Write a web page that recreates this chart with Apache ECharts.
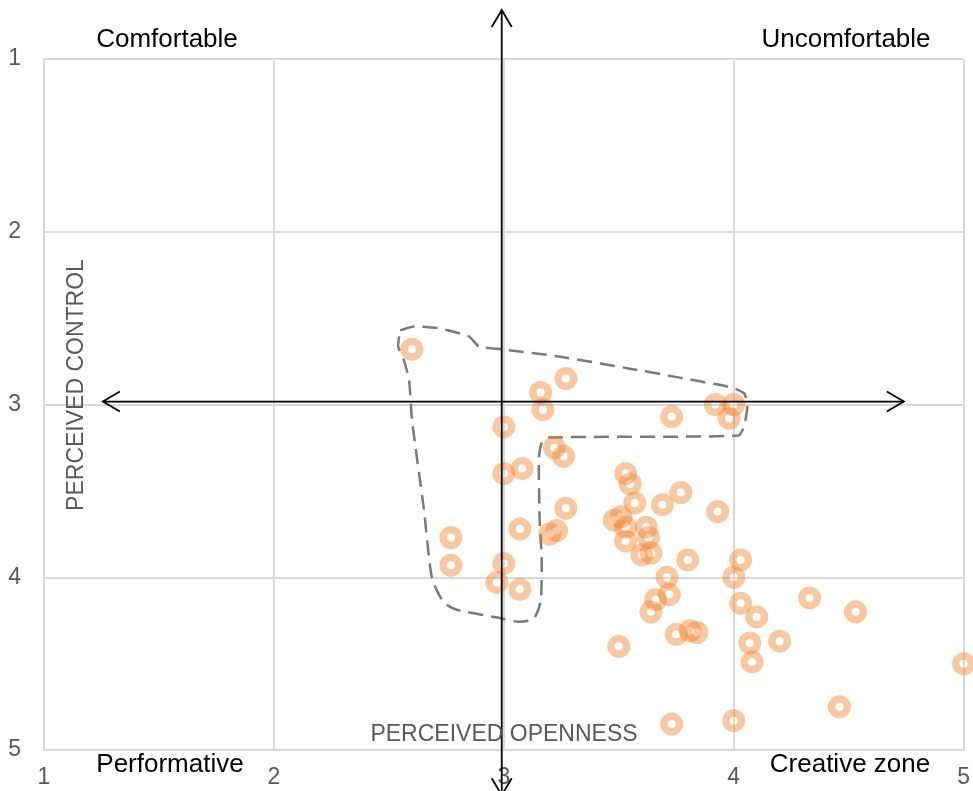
<!DOCTYPE html>
<html>
<head>
<meta charset="utf-8">
<script src="https://cdn.jsdelivr.net/npm/echarts@6/dist/echarts.min.js"></script>
<style>
html,body{margin:0;padding:0;background:#fff;}
#main{width:973px;height:791px;}
</style>
</head>
<body>
<div id="main"></div>
<script>
// ---- data ----
var tickValues = [1, 2, 3, 4, 5];
var openness = [2.60,3.27,3.16,3.17,3.00,3.73,3.92,4.00,3.98,3.22,3.26,3.00,3.08,3.53,3.55,3.57,3.69,3.77,3.93,3.27,
                2.77,2.77,3.07,3.23,3.20,3.00,2.97,3.07,3.48,3.51,3.53,3.53,3.62,3.63,3.60,3.64,3.80,4.03,4.00,3.71,
                3.72,3.66,3.64,4.03,4.10,3.75,3.81,3.84,3.50,4.07,4.20,4.08,4.33,4.53,5.00,4.46,4.00,3.73];
var control  = [2.68,2.85,2.93,3.03,3.13,3.07,3.00,3.00,3.08,3.25,3.30,3.40,3.37,3.40,3.46,3.57,3.58,3.51,3.62,3.60,
                3.77,3.93,3.72,3.73,3.75,3.92,4.03,4.07,3.67,3.65,3.71,3.79,3.71,3.77,3.87,3.86,3.90,3.90,4.00,4.00,
                4.10,4.13,4.20,4.15,4.23,4.33,4.31,4.32,4.40,4.38,4.37,4.49,4.12,4.20,4.50,4.75,4.83,4.85];
// dashed cluster outline (openness, control)
var outlineX = [2.549,2.610,2.718,2.848,2.892,2.991,3.239,3.542,3.759,3.989,4.046,4.059,4.046,4.020,3.195,3.165,3.152,3.156,3.165,3.161,3.130,3.065,2.978,2.796,2.740,2.688,2.653,2.601,2.588,2.566,2.540,2.549];
var outlineY = [2.571,2.548,2.559,2.606,2.664,2.681,2.722,2.791,2.843,2.901,2.936,3.006,3.122,3.180,3.191,3.220,3.325,3.672,3.904,4.136,4.241,4.258,4.235,4.188,4.148,4.009,3.614,3.093,2.861,2.745,2.658,2.571];
// quadrant arrows (openness, control)
var hArrow = [[1.256, 2.983], [4.740, 2.983]];
var vArrow = [[2.991, 5.262], [2.991, 0.716]];
var quadrantLabels = ['Comfortable', 'Uncomfortable', 'Performative', 'Creative zone'];
var xAxisName = 'PERCEIVED OPENNESS';
var yAxisName = 'PERCEIVED CONTROL';

var points = openness.map(function (v, i) { return [v, control[i]]; });
var outline = outlineX.map(function (v, i) { return [v, outlineY[i]]; });

var FONT = "'Liberation Sans', Arial, sans-serif";
var chart = echarts.init(document.getElementById('main'), null, {renderer: 'canvas'});

var option = {
  animation: false,
  backgroundColor: '#ffffff',
  grid: {left: 44, right: 6, top: 59, bottom: 41, containLabel: false},
  xAxis: {
    type: 'value', min: 1, max: 5, interval: 1,
    axisLine: {show: true, lineStyle: {color: '#d9d9d9', width: 2}},
    axisTick: {show: false},
    splitLine: {show: true, lineStyle: {color: '#d9d9d9', width: 2}},
    axisLabel: {color: '#595959', fontSize: 23, fontFamily: FONT, margin: 16,
      formatter: function (v) { return tickValues.indexOf(v) >= 0 ? String(v) : ''; }}
  },
  yAxis: {
    type: 'value', min: 1, max: 5, interval: 1, inverse: true,
    axisLine: {show: true, lineStyle: {color: '#d9d9d9', width: 2}},
    axisTick: {show: false},
    splitLine: {show: true, lineStyle: {color: '#d9d9d9', width: 2}},
    axisLabel: {color: '#595959', fontSize: 23, fontFamily: FONT, margin: 23,
      formatter: function (v) { return tickValues.indexOf(v) >= 0 ? String(v) : ''; }}
  },
  series: [
    {
      type: 'line', data: outline, symbol: 'none', smooth: 0.2, clip: false, z: 1,
      lineStyle: {color: '#7a7a7a', width: 2.5, type: [15, 8]}
    },
    {
      type: 'scatter', data: points, symbol: 'circle', symbolSize: 15.5, clip: false, z: 2,
      itemStyle: {color: 'rgba(255,255,255,0)', borderColor: 'rgba(240,130,40,0.55)', borderWidth: 7.5}
    }
  ]
};
chart.setOption(option);

function px(p) { return chart.convertToPixel({gridIndex: 0}, p); }
function arrowGraphics(a) {
  var s = px(a[0]), e = px(a[1]);
  var out = [];
  function head(tip, from) {
    var dx = tip[0] - from[0], dy = tip[1] - from[1];
    var len = Math.sqrt(dx * dx + dy * dy); dx /= len; dy /= len;
    var back = 17, half = 10;
    var bx = tip[0] - dx * back, by = tip[1] - dy * back;
    return {type: 'polyline', z: 100, shape: {points: [[bx - dy * half, by + dx * half], tip, [bx + dy * half, by - dx * half]]},
      style: {stroke: '#000', lineWidth: 1.8, fill: null}};
  }
  out.push({type: 'line', z: 100, shape: {x1: s[0], y1: s[1], x2: e[0], y2: e[1]}, style: {stroke: '#000', lineWidth: 1.8}});
  out.push(head(s, e));
  out.push(head(e, s));
  return out;
}
function txt(t, x, y, align, opts) {
  var o = {type: 'text', z: 100, x: x, y: y,
    style: {text: t, fill: opts.color, font: opts.size + 'px ' + FONT, textAlign: align, textVerticalAlign: 'middle'}};
  if (opts.rotation) o.rotation = opts.rotation;
  return o;
}
var g = [];
g = g.concat(arrowGraphics(hArrow));
g = g.concat(arrowGraphics(vArrow));
g.push(txt(quadrantLabels[0], 167, 40, 'center', {color: '#000', size: 26}));
g.push(txt(quadrantLabels[1], 846, 40, 'center', {color: '#000', size: 26}));
g.push(txt(quadrantLabels[2], 170, 765, 'center', {color: '#000', size: 26}));
g.push(txt(quadrantLabels[3], 850, 765, 'center', {color: '#000', size: 26}));
g.push(txt(xAxisName, 504, 735, 'center', {color: '#595959', size: 23}));
g.push(txt(yAxisName, 77, 385, 'center', {color: '#595959', size: 23, rotation: Math.PI / 2}));
chart.setOption({graphic: g});
</script>
</body>
</html>
